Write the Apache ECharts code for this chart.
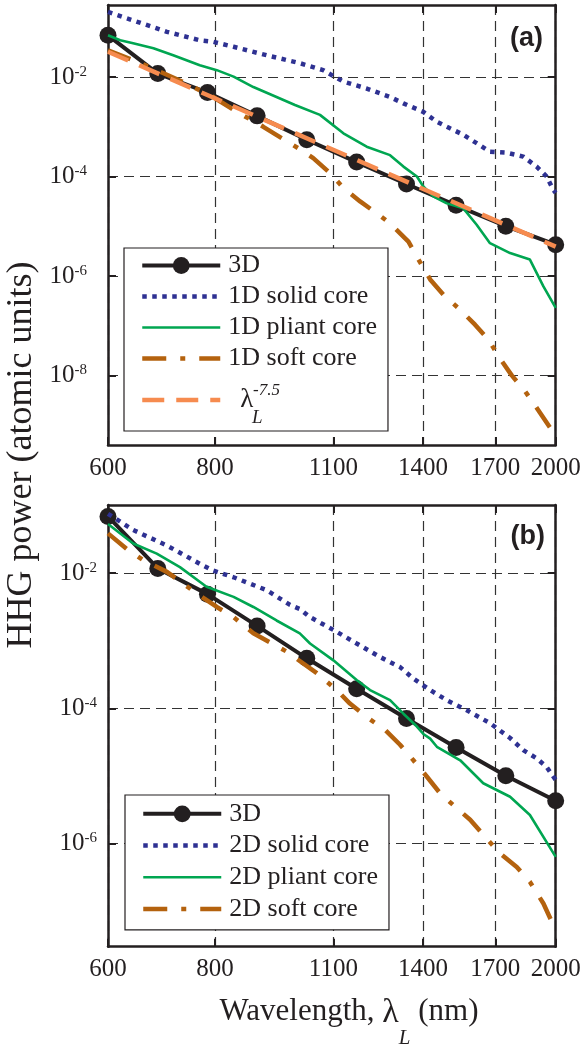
<!DOCTYPE html>
<html><head><meta charset="utf-8">
<script src="https://cdn.jsdelivr.net/npm/echarts@6/dist/echarts.min.js"></script>
<style>html,body{margin:0;padding:0;background:#fff}#chart{width:585px;height:1049px}</style>
</head><body><div id="chart"></div>
<script>
// ---------- data (wavelength in nm, HHG power as log10 of atomic units) ----------
const xTickValues = [600, 800, 1100, 1400, 1700, 2000];
const yTickExponents = [-8, -6, -4, -2];

const lambda3D = [600, 686, 784, 896, 1024, 1171, 1339, 1530, 1749, 2000];
const logP3D   = [-1.16, -1.93, -2.31, -2.78, -3.26, -3.71, -4.15, -4.58, -5.00, -5.37];

const lambdaFit = [600, 2000];
const logPFit   = [-1.49, -5.41];

// panel (a): 1D models
const lambda1DSolid = [600, 642, 703, 768, 796, 841, 919, 1005, 1070, 1100, 1130, 1203, 1281, 1328, 1401, 1453, 1505, 1560, 1617, 1676, 1753, 1833, 1900, 1952, 1987, 2000];
const logP1DSolid   = [-0.69, -0.86, -1.09, -1.26, -1.29, -1.39, -1.56, -1.72, -1.86, -1.98, -2.09, -2.23, -2.40, -2.53, -2.70, -2.90, -3.03, -3.16, -3.33, -3.50, -3.52, -3.60, -3.80, -4.00, -4.27, -4.33];

const lambda1DPliant = [600, 620, 642, 678, 715, 768, 804, 841, 887, 944, 992, 1061, 1130, 1203, 1281, 1328, 1377, 1401, 1439, 1492, 1560, 1617, 1676, 1769, 1866, 1935, 2000];
const logP1DPliant   = [-1.16, -1.26, -1.32, -1.42, -1.56, -1.76, -1.86, -1.99, -2.20, -2.40, -2.56, -2.76, -3.13, -3.40, -3.57, -3.80, -4.00, -4.20, -4.40, -4.54, -4.64, -4.97, -5.34, -5.54, -5.67, -6.21, -6.64];

const lambda1DSoft = [600, 642, 684, 741, 796, 841, 911, 1005, 1042, 1090, 1130, 1182, 1236, 1281, 1346, 1383, 1427, 1479, 1547, 1610, 1669, 1714, 1777, 1842, 1900, 1970, 2000];
const logP1DSoft   = [-1.46, -1.66, -1.86, -2.13, -2.40, -2.66, -3.00, -3.45, -3.63, -3.93, -4.23, -4.50, -4.74, -4.94, -5.31, -5.67, -6.07, -6.38, -6.68, -6.98, -7.28, -7.61, -8.00, -8.32, -8.65, -9.05, -9.22];

// panel (b): 2D models
const lambda2DSolid = [600, 642, 703, 768, 796, 841, 919, 979, 1005, 1033, 1100, 1171, 1247, 1316, 1364, 1427, 1492, 1575, 1676, 1769, 1833, 1900, 1952, 1987, 2000];
const logP2DSolid   = [-1.12, -1.36, -1.59, -1.86, -1.96, -2.06, -2.25, -2.47, -2.53, -2.65, -2.84, -3.04, -3.24, -3.39, -3.56, -3.73, -3.88, -4.03, -4.22, -4.44, -4.62, -4.74, -4.87, -5.01, -5.06];

const lambda2DPliant = [600, 642, 684, 728, 782, 841, 887, 944, 1005, 1033, 1100, 1171, 1214, 1281, 1328, 1377, 1401, 1427, 1453, 1547, 1646, 1769, 1866, 2000];
const logP2DPliant   = [-1.27, -1.56, -1.71, -1.91, -2.20, -2.35, -2.50, -2.70, -2.89, -3.04, -3.29, -3.58, -3.73, -3.88, -4.08, -4.27, -4.38, -4.45, -4.57, -4.77, -5.11, -5.31, -5.58, -6.20];

const lambda2DSoft = [600, 631, 660, 703, 762, 804, 841, 887, 970, 1052, 1110, 1150, 1203, 1264, 1316, 1364, 1414, 1466, 1533, 1589, 1661, 1722, 1801, 1866, 1935, 1979, 2000];
const logP2DSoft   = [-1.41, -1.64, -1.81, -1.98, -2.30, -2.50, -2.65, -2.89, -3.16, -3.48, -3.73, -3.93, -4.13, -4.32, -4.54, -4.77, -5.01, -5.26, -5.48, -5.65, -5.93, -6.15, -6.35, -6.57, -6.89, -7.16, -7.25];

// ---------- styling ----------
const INK = '#231f20';
const SERIF = 'Liberation Serif';
const C_SOLID = '#2e3192', C_PLIANT = '#00a651', C_SOFT = '#b4620e', C_FIT = '#f68b4f';
const FIT_NAME = 'lambda_L^-7.5';

function pts(lams, logs) { return lams.map((l, i) => [Math.log10(l), logs[i]]); }

const xMin = Math.log10(600), xMax = Math.log10(2000);
const xCustom = xTickValues.map(v => Math.log10(v));

function gridAxesX(gridIndex, margin) {
  return [{
    type: 'value', gridIndex, position: 'bottom', min: xMin, max: xMax,
    axisLine: {show: true, onZero: false, lineStyle: {color: INK, width: 2.5}},
    axisTick: {show: true, inside: true, length: 8, customValues: xCustom, lineStyle: {color: INK, width: 2}},
    axisLabel: {show: true, customValues: xCustom, margin, color: INK, fontFamily: SERIF, fontSize: 25, lineHeight: 25,
      formatter: v => String(Math.round(Math.pow(10, v)))},
    splitLine: {show: true, lineStyle: {color: '#333', width: 1.2, type: [10, 6]}}
  }, {
    type: 'value', gridIndex, position: 'top', min: xMin, max: xMax,
    axisLine: {show: true, onZero: false, lineStyle: {color: INK, width: 2.5}},
    axisTick: {show: true, inside: true, length: 8, customValues: xCustom, lineStyle: {color: INK, width: 2}},
    axisLabel: {show: false},
    splitLine: {show: false}
  }];
}
function gridAxesY(gridIndex, min, max, margin) {
  return [{
    type: 'value', gridIndex, position: 'left', min, max,
    axisLine: {show: true, onZero: false, lineStyle: {color: INK, width: 2.5}},
    axisTick: {show: true, inside: true, length: 8, customValues: yTickExponents, lineStyle: {color: INK, width: 2}},
    axisLabel: {show: true, customValues: yTickExponents, margin,
      formatter: v => '{b|10}{s|' + Math.round(v) + '}',
      rich: {
        b: {fontFamily: SERIF, fontSize: 25, lineHeight: 25, color: INK, verticalAlign: 'bottom'},
        s: {fontFamily: SERIF, fontSize: 15, lineHeight: 15, color: INK, verticalAlign: 'top', padding: [0, 0, 16, 0]}
      }},
    splitLine: {show: true, lineStyle: {color: '#333', width: 1.2, type: [10, 6]}}
  }, {
    type: 'value', gridIndex, position: 'right', min, max,
    axisLine: {show: true, onZero: false, lineStyle: {color: INK, width: 2.5}},
    axisTick: {show: true, inside: true, length: 8, customValues: yTickExponents, lineStyle: {color: INK, width: 2}},
    axisLabel: {show: false},
    splitLine: {show: false}
  }];
}

function series3D(xi, yi) {
  return {name: '3D', type: 'line', xAxisIndex: xi, yAxisIndex: yi, data: pts(lambda3D, logP3D),
    symbol: 'circle', symbolSize: 17, showSymbol: true, showAllSymbol: true,
    itemStyle: {color: INK}, lineStyle: {color: INK, width: 4}, z: 2};
}
function plainSeries(name, xi, yi, lams, logs, color, width, dash, z) {
  return {name, type: 'line', xAxisIndex: xi, yAxisIndex: yi, data: pts(lams, logs),
    symbol: 'none', itemStyle: {color}, lineStyle: {color, width, type: dash}, z};
}

const richLegend = {
  l: {fontFamily: SERIF, fontSize: 27, lineHeight: 52, color: INK, padding: [0, 0, 0, 12]}
};
function legendFormatter(name) {
  if (name === FIT_NAME) return '{l|λ}';
  return name;
}
function makeLegend(names, left, top, padding, lh) {
  return {
    show: true, orient: 'vertical', left, top, padding, itemGap: 0,
    itemWidth: 78, itemHeight: 21, selectedMode: false,
    backgroundColor: '#fff', borderColor: INK, borderWidth: 1.2, borderRadius: 0,
    itemStyle: {opacity: 0},
    lineStyle: {width: 'inherit'},
    textStyle: {fontFamily: SERIF, fontSize: 26, lineHeight: lh, color: INK, padding: [0, 0, 0, 3], rich: richLegend},
    formatter: legendFormatter,
    data: names.map(n => n === '3D' ? {name: n, itemStyle: {opacity: 1}} : {name: n})
  };
}

const option = {
  animation: false,
  backgroundColor: '#fff',
  grid: [
    {left: 108, top: 5, width: 447.7, height: 440, outerBoundsMode: 'none', containLabel: false},
    {left: 108, top: 505, width: 447.7, height: 441.7, outerBoundsMode: 'none', containLabel: false}
  ],
  xAxis: [...gridAxesX(0, 11), ...gridAxesX(1, 10)],
  yAxis: [...gridAxesY(0, -9.4, -0.55, 21), ...gridAxesY(1, -7.53, -0.99, 11)],
  legend: [
    makeLegend(['3D', '1D solid core', '1D pliant core', '1D soft core', FIT_NAME], 124, 248, [2, 11, 5, 16], 31),
    makeLegend(['3D', '2D solid core', '2D pliant core', '2D soft core'], 125, 795, [3, 11, 5, 16], 31.7)
  ],
  series: [
    series3D(0, 0),
    plainSeries('1D solid core', 0, 0, lambda1DSolid, logP1DSolid, C_SOLID, 4.5, [4.5, 5.5], 3),
    plainSeries('1D pliant core', 0, 0, lambda1DPliant, logP1DPliant, C_PLIANT, 2.6, 'solid', 4),
    plainSeries('1D soft core', 0, 0, lambda1DSoft, logP1DSoft, C_SOFT, 4.5, [24, 14, 5, 14], 5),
    plainSeries(FIT_NAME, 0, 0, lambdaFit, logPFit, C_FIT, 4.5, [22, 12], 6),
    series3D(2, 2),
    plainSeries('2D solid core', 2, 2, lambda2DSolid, logP2DSolid, C_SOLID, 4.5, [4.5, 5.5], 3),
    plainSeries('2D pliant core', 2, 2, lambda2DPliant, logP2DPliant, C_PLIANT, 2.6, 'solid', 4),
    plainSeries('2D soft core', 2, 2, lambda2DSoft, logP2DSoft, C_SOFT, 4.5, [24, 14, 5, 14], 5)
  ],
  graphic: [
    {type: 'text', x: 543, y: 39, z: 100, style: {text: '(a)', fontFamily: 'Liberation Sans', fontWeight: 'bold', fontSize: 27, fill: INK, align: 'right', verticalAlign: 'middle'}},
    {type: 'text', x: 545, y: 537, z: 100, style: {text: '(b)', fontFamily: 'Liberation Sans', fontWeight: 'bold', fontSize: 27, fill: INK, align: 'right', verticalAlign: 'middle'}},
    // superscript / subscript of the lambda_L^-7.5 legend entry
    {type: 'text', x: 253, y: 391, z: 100, style: {text: '-7.5', fontFamily: SERIF, fontStyle: 'italic', fontSize: 17, fill: INK, align: 'left', verticalAlign: 'middle'}},
    {type: 'text', x: 252, y: 418, z: 100, style: {text: 'L', fontFamily: SERIF, fontStyle: 'italic', fontSize: 19, fill: INK, align: 'left', verticalAlign: 'middle'}},
    {type: 'text', x: 22, y: 455, rotation: Math.PI / 2, style: {text: 'HHG power (atomic units)', fontFamily: SERIF, fontSize: 36, fill: INK, align: 'center', verticalAlign: 'middle'}},
    {type: 'text', x: 349, y: 996, style: {text: '{t|Wavelength, }{l|λ}{sub|L}{t| (nm)}', align: 'center', verticalAlign: 'top',
      rich: {
        t: {fontFamily: SERIF, fontSize: 31, lineHeight: 33, fill: INK, color: INK, verticalAlign: 'top'},
        l: {fontFamily: SERIF, fontSize: 34, lineHeight: 33, fill: INK, color: INK, verticalAlign: 'top'},
        sub: {fontFamily: SERIF, fontStyle: 'italic', fontSize: 21, lineHeight: 18, fill: INK, color: INK, verticalAlign: 'top', padding: [32, 0, 0, 0]}
      }}}
  ]
};

const chart = echarts.init(document.getElementById('chart'), null, {renderer: 'canvas'});
chart.setOption(option);
</script>
</body></html>
